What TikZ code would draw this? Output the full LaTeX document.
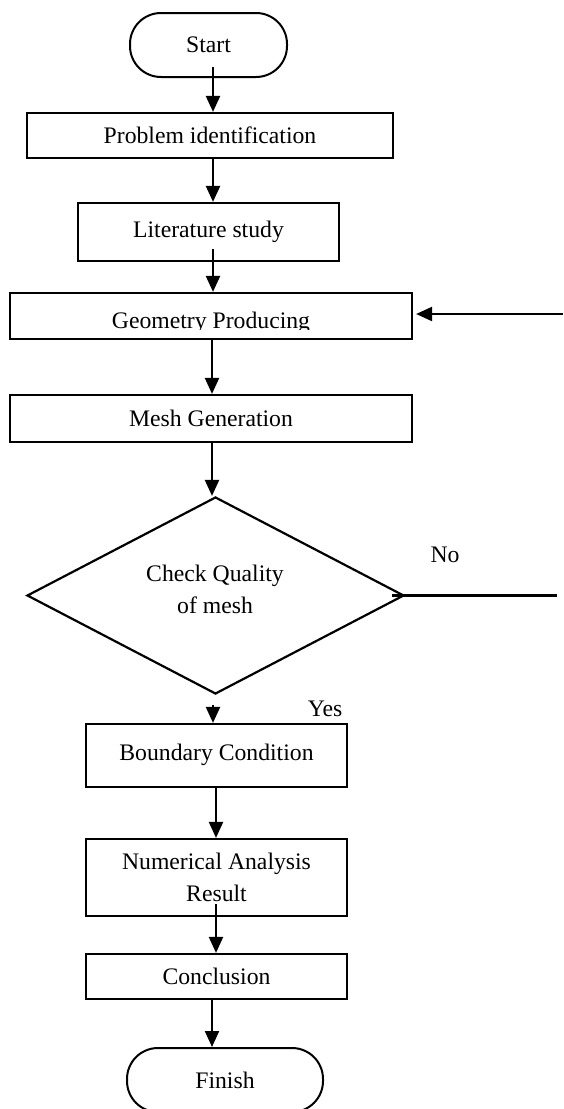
\documentclass[tikz,border=0pt]{standalone}
\usepackage{fontspec}
\setmainfont{Liberation Serif}
\usetikzlibrary{arrows.meta,shapes.geometric,calc}
\begin{document}
\begin{tikzpicture}[x=1pt,y=-1pt,
  every node/.style={font=\fontsize{23.7}{32}\selectfont, inner sep=0pt},
  stepbox/.style={draw, line width=2.2pt, rectangle, align=center},
  termbox/.style={draw, line width=2pt, rectangle, rounded corners=31pt, minimum width=#1, minimum height=64pt},
  decbox/.style={draw, line width=2.2pt, diamond, aspect=1.91, minimum width=377pt, minimum height=197pt},
  flow/.style={line width=2.2pt, -{Triangle[length=16pt,width=14pt]}},
  plain/.style={line width=2.2pt},
  lbl/.style={align=center}]
\useasboundingbox (0,0) rectangle (563,1109);
% nodes
\node[termbox=157pt] (start) at (208.5,45) {Start};
\node[stepbox, minimum width=366pt, minimum height=45pt] (prob) at (210,135.5) {Problem identification};
\node[stepbox, minimum width=261pt, minimum height=58pt] (lit) at (208.5,232) {Literature study};
\node[stepbox, minimum width=402pt, minimum height=46pt] (geo) at (211,316) {};
\begin{scope}
  \clip (12,290) rectangle (410,329.5);
  \node[anchor=base] (geotext) at (211,328) {Geometry Producing};
\end{scope}
\node[stepbox, minimum width=402pt, minimum height=47pt] (mesh) at (211,418.5) {Mesh Generation};
\node[decbox] (chk) at (215.5,595.5) {};
\node[lbl] (chktext) at (215,589) {Check Quality\\of mesh};
\node[stepbox, minimum width=261pt, minimum height=63pt] (bc) at (216.5,755.5) {\raisebox{7pt}{Boundary Condition}};
\node[stepbox, minimum width=261pt, minimum height=77pt] (num) at (216.5,877.5) {Numerical Analysis\\Result};
\node[stepbox, minimum width=261pt, minimum height=45pt] (conc) at (216.5,976.5) {Conclusion};
\node[termbox=196pt] (fin) at (225,1080) {Finish};
% labels
\node[lbl] (no) at (445,555) {No};
\node[lbl] (yes) at (325,709) {Yes};
% free ends
\coordinate (noend) at (557,595.5);
\coordinate (fbstart) at (563,314);
% connectors
\draw[flow] ($(start.south -| 213,0)+(0,-11)$) -- (prob.north -| 213,0);
\draw[flow] (prob.south -| 213,0) -- (lit.north -| 213,0);
\draw[flow] ($(lit.south -| 213,0)+(0,-13)$) -- (geo.north -| 213,0);
\draw[flow] (geo.south -| 212,0) -- (mesh.north -| 212,0);
\draw[flow] (mesh.south -| 212,0) -- (chk.north -| 212,0);
\draw[plain] ($(chk.east)+(-13,0)$) -- (noend);
\draw[flow] (fbstart) -- ($(geo.east |- fbstart)+(3,0)$);
\draw[flow] ($(chk.south -| 213,0)+(0,10)$) -- (bc.north -| 213,0);
\draw[flow] (bc.south -| 216,0) -- (num.north -| 216,0);
\draw[flow] ($(num.south -| 216,0)+(0,-13)$) -- (conc.north -| 216,0);
\draw[flow] (conc.south -| 212,0) -- (fin.north -| 212,0);
\end{tikzpicture}
\end{document}
